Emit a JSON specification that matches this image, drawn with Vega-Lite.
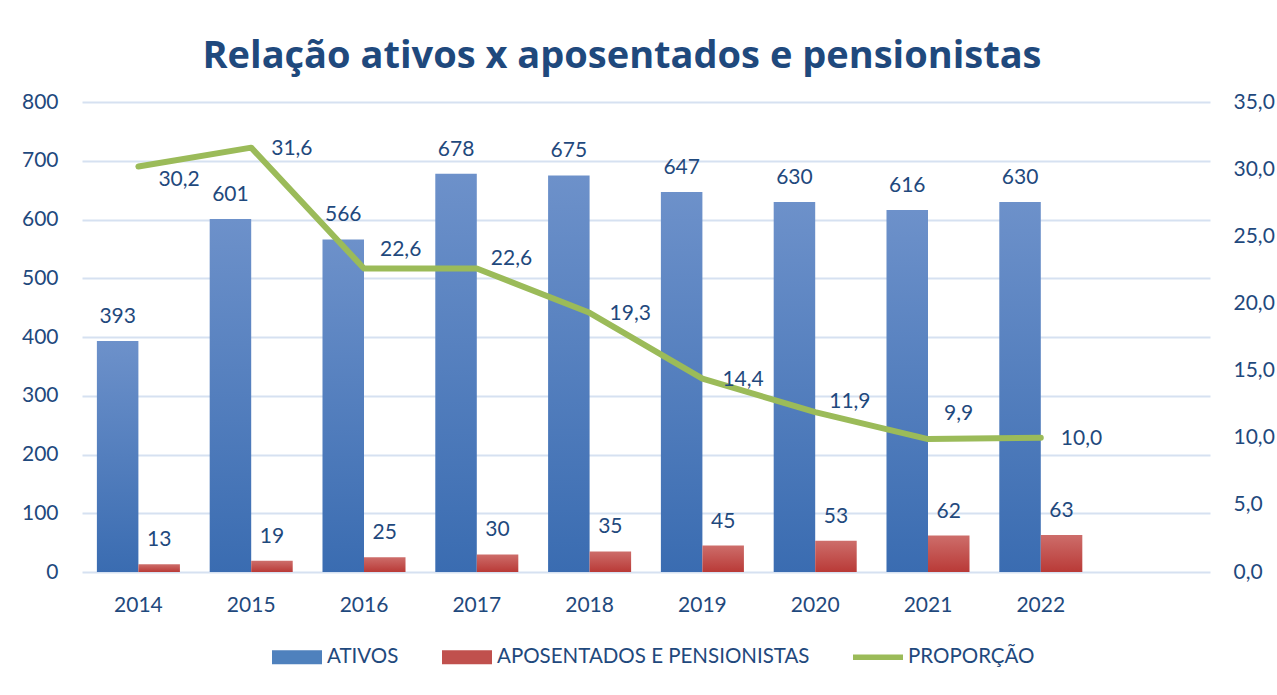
{
  "$schema": "https://vega.github.io/schema/vega-lite/v6.json",
  "autosize": {"type": "none"},
  "width": 1128,
  "height": 470,
  "padding": {"left": 82, "top": 102, "right": 67, "bottom": 123},
  "background": "white",
  "title": {
    "text": "Relação ativos x aposentados e pensionistas",
    "font": "Open Sans",
    "fontSize": 38,
    "fontWeight": "bold",
    "color": "#1F497D",
    "anchor": "middle",
    "dx": -24,
    "offset": 15
  },
  "datasets": {
    "barras": [
      {"ano": "2014", "serie": "ATIVOS", "valor": 393},
      {"ano": "2015", "serie": "ATIVOS", "valor": 601},
      {"ano": "2016", "serie": "ATIVOS", "valor": 566},
      {"ano": "2017", "serie": "ATIVOS", "valor": 678},
      {"ano": "2018", "serie": "ATIVOS", "valor": 675},
      {"ano": "2019", "serie": "ATIVOS", "valor": 647},
      {"ano": "2020", "serie": "ATIVOS", "valor": 630},
      {"ano": "2021", "serie": "ATIVOS", "valor": 616},
      {"ano": "2022", "serie": "ATIVOS", "valor": 630},
      {"ano": "2014", "serie": "APOSENTADOS E PENSIONISTAS", "valor": 13},
      {"ano": "2015", "serie": "APOSENTADOS E PENSIONISTAS", "valor": 19},
      {"ano": "2016", "serie": "APOSENTADOS E PENSIONISTAS", "valor": 25},
      {"ano": "2017", "serie": "APOSENTADOS E PENSIONISTAS", "valor": 30},
      {"ano": "2018", "serie": "APOSENTADOS E PENSIONISTAS", "valor": 35},
      {"ano": "2019", "serie": "APOSENTADOS E PENSIONISTAS", "valor": 45},
      {"ano": "2020", "serie": "APOSENTADOS E PENSIONISTAS", "valor": 53},
      {"ano": "2021", "serie": "APOSENTADOS E PENSIONISTAS", "valor": 62},
      {"ano": "2022", "serie": "APOSENTADOS E PENSIONISTAS", "valor": 63}
    ],
    "proporcao": [
      {"ano": "2014", "prop": 30.2},
      {"ano": "2015", "prop": 31.6},
      {"ano": "2016", "prop": 22.6},
      {"ano": "2017", "prop": 22.6},
      {"ano": "2018", "prop": 19.3},
      {"ano": "2019", "prop": 14.4},
      {"ano": "2020", "prop": 11.9},
      {"ano": "2021", "prop": 9.9},
      {"ano": "2022", "prop": 10.0}
    ]
  },
  "encoding": {
    "x": {
      "field": "ano",
      "type": "nominal",
      "scale": {
        "domain": ["2014", "2015", "2016", "2017", "2018", "2019", "2020", "2021", "2022", "2023"],
        "paddingInner": 0.264,
        "paddingOuter": 0.132
      },
      "axis": {"labelExpr": "datum.value == '2023' ? '' : datum.value"}
    }
  },
  "layer": [
    {
      "data": {"name": "barras"},
      "encoding": {
        "xOffset": {
          "field": "serie",
          "type": "nominal",
          "scale": {"domain": ["ATIVOS", "APOSENTADOS E PENSIONISTAS"], "paddingInner": 0, "paddingOuter": 0}
        },
        "y": {
          "field": "valor",
          "type": "quantitative",
          "scale": {"domain": [0, 800]},
          "axis": {"orient": "left", "values": [0, 100, 200, 300, 400, 500, 600, 700, 800], "grid": true, "labelPadding": 24}
        }
      },
      "layer": [
        {
          "transform": [{"filter": "datum.serie == 'ATIVOS'"}],
          "mark": {
            "type": "bar",
            "color": {
              "gradient": "linear", "x1": 0, "y1": 0, "x2": 0, "y2": 1,
              "stops": [{"offset": 0, "color": "#6D91CA"}, {"offset": 1, "color": "#3A6CB1"}]
            }
          }
        },
        {
          "transform": [{"filter": "datum.serie != 'ATIVOS'"}],
          "mark": {
            "type": "bar",
            "color": {
              "gradient": "linear", "x1": 0, "y1": 0, "x2": 0, "y2": 1,
              "stops": [{"offset": 0, "color": "#CD6D6A"}, {"offset": 1, "color": "#B93A37"}]
            }
          }
        },
        {
          "mark": {"type": "text", "baseline": "middle", "dy": -24, "font": "Lato", "fontSize": 21, "color": "#1F497D"},
          "encoding": {"text": {"field": "valor", "type": "quantitative"}}
        },
        {
          "transform": [{"filter": "datum.valor < 0"}],
          "mark": {"type": "point", "filled": true, "opacity": 1},
          "encoding": {
            "color": {
              "field": "serie",
              "type": "nominal",
              "scale": {
                "domain": ["ATIVOS", "APOSENTADOS E PENSIONISTAS", "PROPORÇÃO"],
                "range": ["#4F81BD", "#C0504D", "#9BBB59"]
              },
              "legend": {
                "orient": "none", "legendX": 190, "legendY": 530,
                "direction": "horizontal", "title": null,
                "labelFont": "Lato", "labelFontSize": 20.5, "labelColor": "#1F497D", "labelLimit": 0,
                "symbolSize": 2500, "columnPadding": 43, "labelOffset": 5,
                "symbolStrokeWidth": 0
              }
            },
            "shape": {
              "field": "serie",
              "type": "nominal",
              "scale": {
                "domain": ["ATIVOS", "APOSENTADOS E PENSIONISTAS", "PROPORÇÃO"],
                "range": ["M-1,-0.28H1V0.28H-1Z", "M-1,-0.28H1V0.28H-1Z", "M-1,-0.11H1V0.11H-1Z"]
              },
              "legend": {
                "orient": "none", "legendX": 190, "legendY": 530,
                "direction": "horizontal", "title": null,
                "labelFont": "Lato", "labelFontSize": 20.5, "labelColor": "#1F497D", "labelLimit": 0,
                "symbolSize": 2500, "columnPadding": 43, "labelOffset": 5,
                "symbolStrokeWidth": 0
              }
            }
          }
        }
      ]
    },
    {
      "data": {"name": "proporcao"},
      "encoding": {
        "y": {
          "field": "prop",
          "type": "quantitative",
          "scale": {"domain": [0, 35]},
          "axis": {"orient": "right", "values": [0, 5, 10, 15, 20, 25, 30, 35], "format": ".1f", "grid": false, "labelPadding": 23}
        }
      },
      "layer": [
        {
          "mark": {"type": "line", "color": "#9BBB59", "strokeWidth": 6, "strokeCap": "round", "strokeJoin": "round"}
        },
        {
          "transform": [{"filter": {"field": "ano", "oneOf": ["2015", "2018", "2019", "2022"]}}],
          "mark": {"type": "text", "align": "left", "baseline": "middle", "dx": 20, "dy": 1, "font": "Lato", "fontSize": 21, "color": "#1F497D"},
          "encoding": {"text": {"field": "prop", "type": "quantitative", "format": ".1f"}}
        },
        {
          "transform": [{"filter": {"field": "ano", "equal": "2014"}}],
          "mark": {"type": "text", "align": "left", "baseline": "middle", "dx": 20, "dy": 14, "font": "Lato", "fontSize": 21, "color": "#1F497D"},
          "encoding": {"text": {"field": "prop", "type": "quantitative", "format": ".1f"}}
        },
        {
          "transform": [{"filter": {"field": "ano", "equal": "2016"}}],
          "mark": {"type": "text", "align": "left", "baseline": "middle", "dx": 16, "dy": -19, "font": "Lato", "fontSize": 21, "color": "#1F497D"},
          "encoding": {"text": {"field": "prop", "type": "quantitative", "format": ".1f"}}
        },
        {
          "transform": [{"filter": {"field": "ano", "oneOf": ["2017", "2020"]}}],
          "mark": {"type": "text", "align": "left", "baseline": "middle", "dx": 14, "dy": -10, "font": "Lato", "fontSize": 21, "color": "#1F497D"},
          "encoding": {"text": {"field": "prop", "type": "quantitative", "format": ".1f"}}
        },
        {
          "transform": [{"filter": {"field": "ano", "equal": "2021"}}],
          "mark": {"type": "text", "align": "left", "baseline": "middle", "dx": 16, "dy": -25, "font": "Lato", "fontSize": 21, "color": "#1F497D"},
          "encoding": {"text": {"field": "prop", "type": "quantitative", "format": ".1f"}}
        }
      ]
    }
  ],
  "resolve": {"scale": {"y": "independent"}},
  "config": {
    "locale": {"number": {"decimal": ",", "thousands": ".", "grouping": [3], "currency": ["R$", ""]}},
    "view": {"stroke": null},
    "font": "Lato",
    "axis": {
      "title": null,
      "labelFont": "Lato",
      "labelFontSize": 21,
      "labelColor": "#1F497D",
      "ticks": false,
      "domain": false,
      "gridColor": "#D6E1F1",
      "gridWidth": 2
    },
    "axisX": {"labelPadding": 22, "labelAngle": 0, "grid": false}
  }
}
